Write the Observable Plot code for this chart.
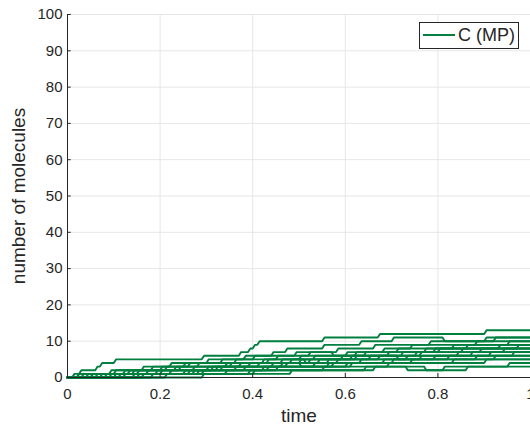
<!DOCTYPE html>
<html>
<head>
<meta charset="utf-8">
<script src="https://cdn.jsdelivr.net/npm/d3@7"></script>
<script src="https://cdn.jsdelivr.net/npm/@observablehq/plot@0.6"></script>
<style>
  html, body { margin: 0; padding: 0; background: white; overflow: hidden; }
  #wrap { position: relative; width: 530px; height: 431px; }
  #legend { position: absolute; left: 419px; top: 22px; width: 100px; height: 27px;
    border: 1px solid #262626; background: white; box-sizing: border-box;
    font-family: "Liberation Sans", Arial, sans-serif; font-size: 18px; color: #262626; }
  #legend .sw { position: absolute; left: 3px; top: 11px; width: 32px; height: 2px; background: #007f3f; }
  #legend .lb { position: absolute; left: 38px; top: 2px; white-space: nowrap; line-height: 20px; }
</style>
</head>
<body>
<div id="wrap"><div id="legend"><span class="sw"></span><span class="lb">C (MP)</span></div></div>
<script>
// Tick values
const xTicks = [0, 0.2, 0.4, 0.6, 0.8, 1];
const yTicks = [0, 10, 20, 30, 40, 50, 60, 70, 80, 90, 100];

// Event times of each simulated run and the molecule count right after each event
const runTimes = [
  [0.02, 0.025, 0.06, 0.07, 0.10, 0.29, 0.37, 0.39, 0.40, 0.41, 0.55, 0.67, 0.90],
  [0.05, 0.12, 0.16, 0.22, 0.30, 0.38, 0.44, 0.47, 0.55, 0.63, 0.70, 0.81, 0.92],
  [0.04, 0.10, 0.18, 0.26, 0.33, 0.40, 0.49, 0.58, 0.66, 0.78, 0.90],
  [0.08, 0.09, 0.20, 0.28, 0.36, 0.45, 0.52, 0.57, 0.62, 0.71, 0.83, 0.95],
  [0.01, 0.15, 0.23, 0.25, 0.42, 0.50, 0.60, 0.68, 0.74, 0.88],
  [0.03, 0.13, 0.21, 0.35, 0.43, 0.53, 0.64, 0.77, 0.86],
  [0.11, 0.19, 0.27, 0.34, 0.46, 0.51, 0.56, 0.61, 0.72, 0.80, 0.93],
  [0.06, 0.14, 0.31, 0.39, 0.48, 0.59, 0.69, 0.79, 0.97],
  [0.02, 0.17, 0.24, 0.37, 0.50, 0.65, 0.76, 0.89],
  [0.09, 0.22, 0.32, 0.41, 0.54, 0.62, 0.75, 0.85],
  [0.14, 0.26, 0.30, 0.44, 0.52, 0.67, 0.71, 0.76, 0.84, 0.94],
  [0.05, 0.20, 0.33, 0.47, 0.58, 0.73, 0.87],
  [0.12, 0.28, 0.38, 0.53, 0.63, 0.79, 0.91],
  [0.16, 0.25, 0.36, 0.46, 0.50, 0.57, 0.68, 0.82, 0.96],
  [0.07, 0.29, 0.43, 0.56, 0.70, 0.88],
  [0.18, 0.34, 0.45, 0.60, 0.74, 0.92],
  [0.10, 0.27, 0.42, 0.61, 0.83],
  [0.21, 0.40, 0.55, 0.69, 0.90],
  [0.29, 0.48, 0.66, 0.77, 0.81, 0.95],
  [0.15, 0.39, 0.64, 0.73, 0.86]
];
const runCounts = [
  [1, 2, 3, 4, 5, 6, 7, 8, 9, 10, 11, 12, 13],
  [1, 2, 3, 4, 5, 6, 7, 8, 9, 10, 11, 10, 11],
  [1, 2, 3, 4, 5, 6, 7, 8, 9, 10, 11],
  [1, 2, 3, 4, 5, 6, 7, 6, 7, 8, 9, 10],
  [1, 2, 3, 4, 5, 6, 7, 8, 9, 10],
  [1, 2, 3, 4, 5, 6, 7, 8, 9],
  [1, 2, 3, 4, 5, 4, 5, 6, 7, 8, 9],
  [1, 2, 3, 4, 5, 6, 7, 8, 9],
  [1, 2, 3, 4, 5, 6, 7, 8],
  [1, 2, 3, 4, 5, 6, 7, 8],
  [1, 2, 3, 4, 5, 6, 5, 6, 7, 8],
  [1, 2, 3, 4, 5, 6, 7],
  [1, 2, 3, 4, 5, 6, 7],
  [1, 2, 3, 4, 3, 4, 5, 6, 7],
  [1, 2, 3, 4, 5, 6],
  [1, 2, 3, 4, 5, 6],
  [1, 2, 3, 4, 5],
  [1, 2, 3, 4, 5],
  [1, 2, 3, 2, 3, 4],
  [1, 2, 3, 2, 3]
];
const xLabel = "time";
const yLabel = "number of molecules";
const tEnd = 1;
const sampleStep = 0.005; // sampling grid of the simulation output

// Build sampled polylines (flat segments joined by short risers)
const points = [];
runTimes.forEach((times, r) => {
  let prev = 0;
  points.push({run: r, t: 0, n: 0});
  times.forEach((t, i) => {
    points.push({run: r, t: t, n: prev});
    points.push({run: r, t: Math.min(t + sampleStep, tEnd), n: runCounts[r][i]});
    prev = runCounts[r][i];
  });
  points.push({run: r, t: tEnd, n: prev});
});

const axisColor = "#262626";
const gridColor = "#e6e6e6";
const green = "#007f3f";

const chart = Plot.plot({
  width: 530,
  height: 431,
  marginLeft: 67,
  marginRight: 0,
  marginTop: 14,
  marginBottom: 54,
  style: {fontFamily: "'Liberation Sans', Arial, sans-serif", fontSize: "15px", color: axisColor, background: "white", overflow: "visible"},
  x: {domain: [0, 1]},
  y: {domain: [0, 100]},
  marks: [
    Plot.gridX(xTicks, {stroke: gridColor, strokeOpacity: 1}),
    Plot.gridY(yTicks, {stroke: gridColor, strokeOpacity: 1}),
    Plot.line(points, {x: "t", y: "n", z: "run", stroke: green, strokeWidth: 1.9, curve: "linear"}),
    Plot.ruleX([0], {stroke: axisColor, strokeWidth: 1}),
    Plot.ruleY([0], {stroke: axisColor, strokeWidth: 1}),
    Plot.ruleX(xTicks, {y1: 0, y2: 1.1, stroke: axisColor}),
    Plot.ruleY(yTicks, {x1: 0, x2: 0.008, stroke: axisColor}),
    Plot.axisX(xTicks, {tickSize: 0, tickPadding: 11, tickFormat: d => String(d), fontSize: 15, label: null}),
    Plot.axisY(yTicks, {tickSize: 0, tickPadding: 5, fontSize: 15, label: null}),
    Plot.text([xLabel], {frameAnchor: "bottom", textAnchor: "middle", lineAnchor: "bottom", dy: 44, fontSize: 19, fill: axisColor}),
    Plot.text([yLabel], {frameAnchor: "left", textAnchor: "middle", lineAnchor: "top", rotate: -90, dx: -56, fontSize: 19, fill: axisColor})
  ]
});
document.getElementById("wrap").prepend(chart);
</script>
</body>
</html>
